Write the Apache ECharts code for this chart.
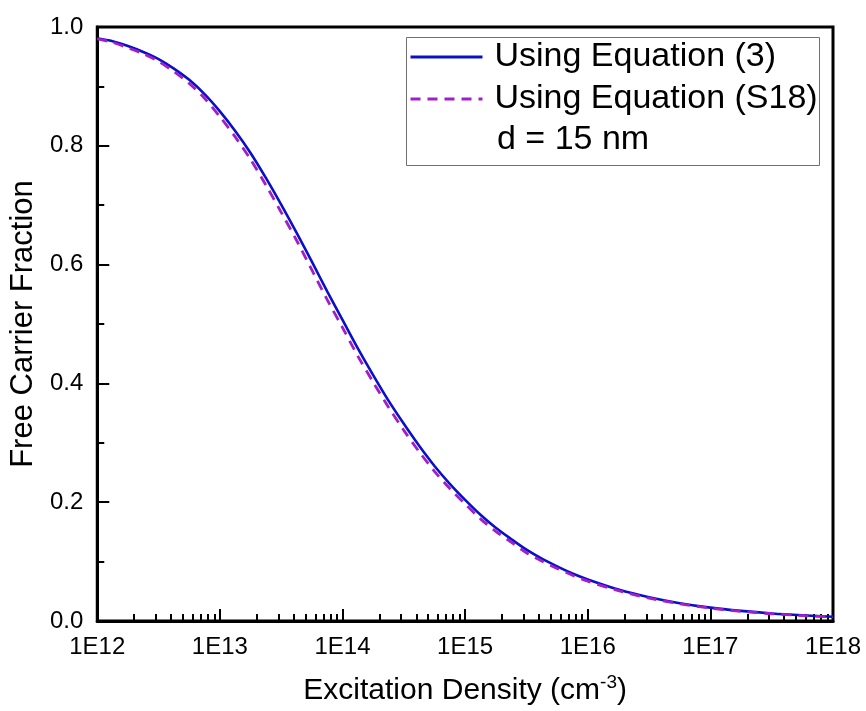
<!DOCTYPE html>
<html>
<head>
<meta charset="utf-8">
<script src="https://cdn.jsdelivr.net/npm/echarts@6/dist/echarts.min.js"></script>
<style>
  html, body { margin: 0; padding: 0; background: #fff; }
  #main { width: 866px; height: 711px; }
</style>
</head>
<body>
<div id="main"></div>
<script>
// excitation density, as log10 (cm^-3)
var exponent = [12, 12.125, 12.25, 12.375, 12.5, 12.625, 12.75, 12.875,
  13, 13.125, 13.25, 13.375, 13.5, 13.625, 13.75, 13.875,
  14, 14.125, 14.25, 14.375, 14.5, 14.625, 14.75, 14.875,
  15, 15.125, 15.25, 15.375, 15.5, 15.625, 15.75, 15.875,
  16, 16.25, 16.5, 16.75, 17, 17.25, 17.5, 17.75, 18]

// Using Equation (3)
var eq3 = [0.981, 0.976, 0.968, 0.958, 0.946, 0.930, 0.911, 0.887,
  0.858, 0.825, 0.788, 0.746, 0.701, 0.654, 0.605, 0.555,
  0.507, 0.459, 0.414, 0.371, 0.332, 0.295, 0.261, 0.231,
  0.204, 0.179, 0.157, 0.138, 0.120, 0.105, 0.092, 0.080,
  0.070, 0.053, 0.040, 0.030, 0.0225, 0.017, 0.0127, 0.0096, 0.0072]

// Using Equation (S18)
var eqS18 = [0.980, 0.974, 0.965, 0.955, 0.942, 0.925, 0.905, 0.880,
  0.849, 0.815, 0.777, 0.734, 0.688, 0.641, 0.591, 0.541,
  0.494, 0.446, 0.402, 0.360, 0.321, 0.285, 0.252, 0.223,
  0.197, 0.172, 0.151, 0.133, 0.115, 0.101, 0.0885, 0.077,
  0.067, 0.051, 0.0385, 0.029, 0.0216, 0.0163, 0.0122, 0.0092, 0.0069]

var seriesNames = ['Using Equation (3)', 'Using Equation (S18)']
var noteText = 'd = 15 nm'
var xTitle = 'Excitation Density (cm{sup|-3})'
var yTitle = 'Free Carrier Fraction'

var FONT = '"Liberation Sans", Arial, sans-serif'

// minor ticks at 2..9 of every decade
var minorX = []
for (var d = 12; d < 18; d++) {
  for (var m = 2; m <= 9; m++) {
    minorX.push(d + Math.log10(m))
  }
}

function pairs (xs, ys) {
  var out = []
  for (var i = 0; i < xs.length; i++) out.push([xs[i], ys[i]])
  return out
}

var chart = echarts.init(document.getElementById('main'))
chart.setOption({
  animation: false,
  backgroundColor: '#fff',
  grid: {
    left: 97,
    right: 33,
    top: 27,
    bottom: 90,
    show: true,
    borderColor: '#000',
    borderWidth: 3
  },
  legend: {
    orient: 'vertical',
    left: 409,
    top: 40,
    padding: 0,
    itemWidth: 72,
    itemHeight: 14,
    itemGap: 8,
    data: seriesNames,
    itemStyle: { opacity: 0 },
    lineStyle: { width: 3 },
    textStyle: {
      fontFamily: FONT,
      fontSize: 34,
      color: '#000',
      padding: [0, 0, 0, 7]
    }
  },
  graphic: [
    {
      type: 'rect',
      left: 404,
      top: 35,
      shape: { width: 413, height: 128 },
      style: { fill: 'none', stroke: '#707070', lineWidth: 1 },
      z: 100
    },
    {
      type: 'text',
      left: 497,
      top: 123,
      style: {
        text: noteText,
        fontFamily: FONT,
        fontSize: 34,
        fill: '#000'
      },
      z: 100
    }
  ],
  xAxis: [
    {
      type: 'value',
      min: 12,
      max: 18,
      interval: 1,
      name: xTitle,
      nameLocation: 'middle',
      nameGap: 52,
      nameTextStyle: {
        fontFamily: FONT,
        fontSize: 30,
        color: '#000',
        rich: {
          sup: { fontFamily: FONT, fontSize: 19, color: '#000', padding: [0, 0, 16, 0] }
        }
      },
      axisLine: { show: true, lineStyle: { color: '#000', width: 3 } },
      axisTick: { show: true, inside: true, length: 12, lineStyle: { color: '#000', width: 2 } },
      axisLabel: {
        margin: 14,
        fontFamily: FONT,
        fontSize: 24,
        color: '#000',
        formatter: function (v) { return '1E' + v }
      },
      splitLine: { show: false }
    },
    {
      type: 'value',
      min: 12,
      max: 18,
      position: 'bottom',
      axisLine: { show: false },
      axisLabel: { show: false },
      splitLine: { show: false },
      axisTick: {
        show: true,
        inside: true,
        length: 7,
        customValues: minorX,
        lineStyle: { color: '#000', width: 2 }
      }
    }
  ],
  yAxis: {
    type: 'value',
    min: 0,
    max: 1,
    interval: 0.2,
    name: yTitle,
    nameLocation: 'middle',
    nameGap: 57,
    nameTextStyle: { fontFamily: FONT, fontSize: 31, color: '#000' },
    axisLine: { show: true, lineStyle: { color: '#000', width: 3 } },
    axisTick: { show: true, inside: true, length: 12, lineStyle: { color: '#000', width: 2 } },
    minorTick: { show: true, splitNumber: 2, length: 7, lineStyle: { color: '#000', width: 2 } },
    axisLabel: {
      margin: 14,
      fontFamily: FONT,
      fontSize: 24,
      color: '#000',
      formatter: function (v) { return v.toFixed(1) }
    },
    splitLine: { show: false }
  },
  series: [
    {
      name: seriesNames[0],
      type: 'line',
      xAxisIndex: 0,
      data: pairs(exponent, eq3),
      smooth: 0.3,
      symbol: 'none',
      lineStyle: { color: '#0A10C8', width: 2.6 },
      itemStyle: { color: '#0A10C8' },
      z: 2
    },
    {
      name: seriesNames[1],
      type: 'line',
      xAxisIndex: 0,
      data: pairs(exponent, eqS18),
      smooth: 0.3,
      symbol: 'none',
      lineStyle: { color: '#A21ECB', width: 2.8, type: [10, 7] },
      itemStyle: { color: '#A21ECB' },
      z: 3
    }
  ]
})
</script>
</body>
</html>
